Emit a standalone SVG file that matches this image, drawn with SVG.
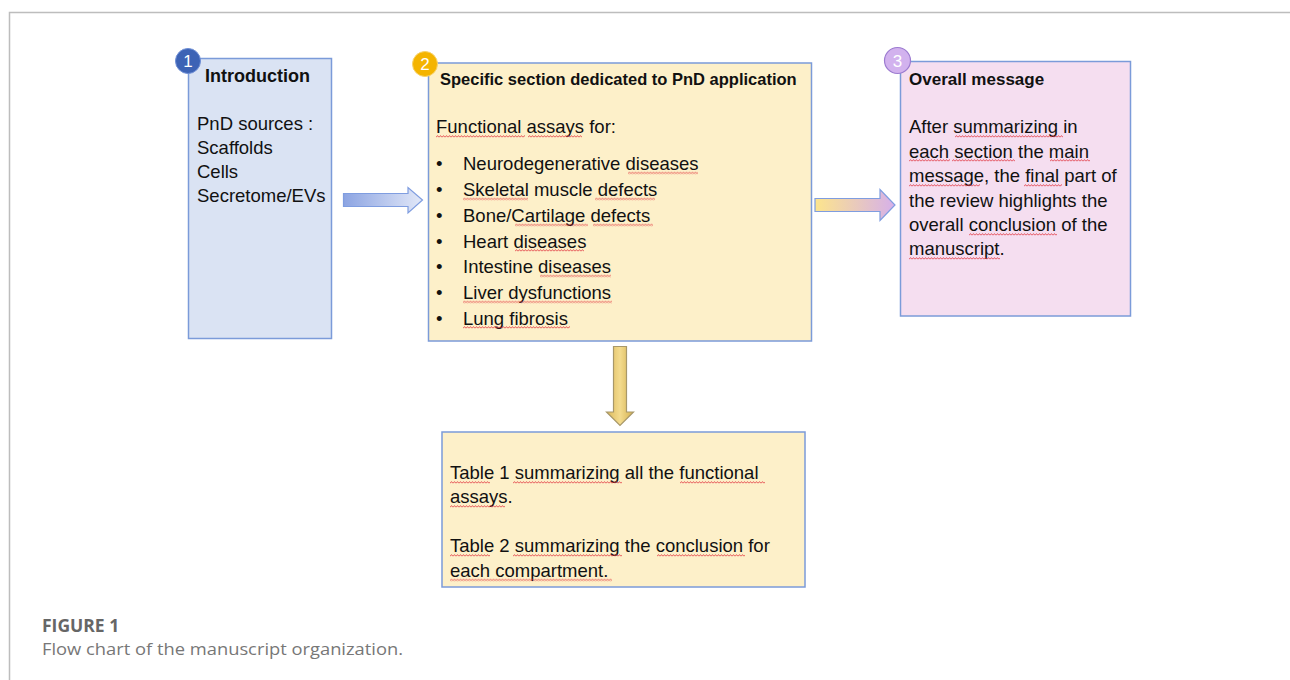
<svg xmlns="http://www.w3.org/2000/svg" width="1290" height="680" viewBox="0 0 1290 680">
<style>
.frame{stroke:#bdbdbd;stroke-width:1.5;fill:none}
.box{stroke:#7b9bd9;stroke-width:1.5}
.b1{fill:#dae3f3}
.b2{fill:#fdf0c9}
.b3{fill:#f5def0}
.t{font-family:"Liberation Sans",Arial,sans-serif;font-size:18.5px;fill:#111}
.tb{font-family:"Liberation Sans",Arial,sans-serif;font-weight:bold;fill:#111}
.num{font-family:"Liberation Sans",Arial,sans-serif;font-size:17px;fill:#fff;text-anchor:middle}
.sq{fill:url(#squig)}
.cap1{font-family:"Open Sans","Liberation Sans",sans-serif;font-weight:bold;font-size:17.5px;fill:#666}
.cap2{font-family:"Open Sans","Liberation Sans",sans-serif;font-size:16.5px;fill:#777}
</style>
<defs>
<pattern id="squig" patternUnits="userSpaceOnUse" width="3" height="3">
<path d="M0,2.4 L1.5,0.6 L3,2.4" fill="none" stroke="#e0303a" stroke-width="0.8"/>
</pattern>
<linearGradient id="g1" x1="0" y1="0" x2="1" y2="0">
<stop offset="0" stop-color="#8ca4e2"/>
<stop offset="1" stop-color="#e2e8f8"/>
</linearGradient>
<linearGradient id="g2" x1="0" y1="0" x2="1" y2="0">
<stop offset="0" stop-color="#fde58c"/>
<stop offset="1" stop-color="#d6b0ea"/>
</linearGradient>
<linearGradient id="g3" x1="0" y1="0" x2="1" y2="0">
<stop offset="0" stop-color="#dcb95a"/>
<stop offset="0.5" stop-color="#f3db8e"/>
<stop offset="1" stop-color="#d4b04e"/>
</linearGradient>
</defs>

<g id="frame">
<path class="frame" d="M9.5,680 V12.5 H1290"/>
</g>

<g id="connectors">
<path id="arrow1" d="M343.5,193.5 H408 V187.5 L422.5,200 L408,213 V206.5 H343.5 Z" fill="url(#g1)" stroke="#7f9de0" stroke-width="1.2"/>
<path id="arrow2" d="M815,198.5 H880 V189.5 L895,205 L880,220.5 V211.5 H815 Z" fill="url(#g2)" stroke="#7f9de0" stroke-width="1.2"/>
<path id="arrow3" d="M613.5,346.5 H626.5 V412 H633.5 L620,425.5 L606.5,412 H613.5 Z" fill="url(#g3)" stroke="#a8986a" stroke-width="1.2"/>
</g>

<g id="node1">
<rect class="box b1" x="188.5" y="58.5" width="143" height="280"/>
<circle cx="188" cy="61" r="12.5" fill="#3d63b5" stroke="#6f8fd6" stroke-width="1"/>
<text class="num" x="188" y="67">1</text>
<text class="tb" x="205" y="82" font-size="18">Introduction</text>
<text class="t" x="197" y="130" font-size="18">PnD sources :</text>
<text class="t" x="197" y="154" font-size="18">Scaffolds</text>
<text class="t" x="197" y="178" font-size="18">Cells</text>
<text class="t" x="197" y="202" font-size="18">Secretome/EVs</text>
</g>

<g id="node2">
<rect class="box b2" x="428.5" y="63" width="383" height="278"/>
<circle cx="425" cy="64" r="12.5" fill="#f4b400" stroke="#f8d36a" stroke-width="1"/>
<text class="num" x="425" y="70">2</text>
<text class="tb" x="440" y="85" font-size="16.5">Specific section dedicated to PnD application</text>
<text class="t" x="436" y="133">Functional assays for:</text>
<g class="t">
<text x="436" y="170">•</text><text x="463" y="170">Neurodegenerative diseases</text>
<text x="436" y="196">•</text><text x="463" y="196">Skeletal muscle defects</text>
<text x="436" y="222">•</text><text x="463" y="222">Bone/Cartilage defects</text>
<text x="436" y="247.5">•</text><text x="463" y="247.5">Heart diseases</text>
<text x="436" y="273">•</text><text x="463" y="273">Intestine diseases</text>
<text x="436" y="299">•</text><text x="463" y="299">Liver dysfunctions</text>
<text x="436" y="324.5">•</text><text x="463" y="324.5">Lung fibrosis</text>
</g>
<rect class="sq" transform="translate(436,135)" width="89" height="3"/>
<rect class="sq" transform="translate(528,135)" width="54" height="3"/>
<rect class="sq" transform="translate(628,171.5)" width="70" height="3"/>
<rect class="sq" transform="translate(463,197.5)" width="65" height="3"/>
<rect class="sq" transform="translate(595,197.5)" width="60" height="3"/>
<rect class="sq" transform="translate(515,223.5)" width="73" height="3"/>
<rect class="sq" transform="translate(593,223.5)" width="60" height="3"/>
<rect class="sq" transform="translate(515,249)" width="69" height="3"/>
<rect class="sq" transform="translate(540,274.5)" width="71" height="3"/>
<rect class="sq" transform="translate(463,300.5)" width="149" height="3"/>
<rect class="sq" transform="translate(463,326)" width="107" height="3"/>
</g>

<g id="node3">
<rect class="box b3" x="900.5" y="61.5" width="230" height="254.5"/>
<circle cx="897.5" cy="60.5" r="13" fill="#d2b2ee" stroke="#9c7bd0" stroke-width="1.2"/>
<text class="num" x="897.5" y="66.5">3</text>
<text class="tb" x="909" y="85" font-size="17">Overall message</text>
<text class="t" x="909" y="133">After summarizing in</text>
<text class="t" x="909" y="157.5">each section the main</text>
<text class="t" x="909" y="182">message, the final part of</text>
<text class="t" x="909" y="206.5">the review highlights the</text>
<text class="t" x="909" y="231">overall conclusion of the</text>
<text class="t" x="909" y="255">manuscript.</text>
<rect class="sq" transform="translate(955,135)" width="108" height="3"/>
<rect class="sq" transform="translate(909,159)" width="41" height="3"/>
<rect class="sq" transform="translate(952,159)" width="63" height="3"/>
<rect class="sq" transform="translate(1050,159)" width="40" height="3"/>
<rect class="sq" transform="translate(909,184)" width="71" height="3"/>
<rect class="sq" transform="translate(1024,184)" width="38" height="3"/>
<rect class="sq" transform="translate(969,233)" width="88" height="3"/>
<rect class="sq" transform="translate(909,257)" width="91" height="3"/>
</g>

<g id="node4">
<rect class="box b2" x="442" y="432" width="363" height="155"/>
<text class="t" x="450" y="479">Table 1 summarizing all the functional</text>
<text class="t" x="450" y="503">assays.</text>
<text class="t" x="450" y="552">Table 2 summarizing the conclusion for</text>
<text class="t" x="450" y="576.5">each compartment.</text>
<rect class="sq" transform="translate(450,481)" width="40" height="3"/>
<rect class="sq" transform="translate(513,481)" width="109" height="3"/>
<rect class="sq" transform="translate(680,481)" width="85" height="3"/>
<rect class="sq" transform="translate(450,505)" width="55" height="3"/>
<rect class="sq" transform="translate(450,554)" width="40" height="3"/>
<rect class="sq" transform="translate(513,554)" width="109" height="3"/>
<rect class="sq" transform="translate(657,554)" width="88" height="3"/>
<rect class="sq" transform="translate(450,578.5)" width="162" height="3"/>
</g>

<g id="caption">
<text class="cap1" x="42" y="632">FIGURE 1</text>
<text class="cap2" x="42" y="655" textLength="361" lengthAdjust="spacingAndGlyphs">Flow chart of the manuscript organization.</text>
</g>
</svg>
